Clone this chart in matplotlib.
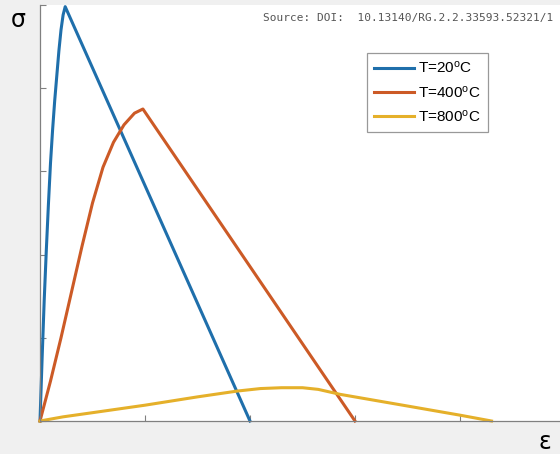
import matplotlib
matplotlib.use("Agg")
import matplotlib.pyplot as plt

plt.rcParams["font.family"] = ["Liberation Sans", "DejaVu Sans"]
plt.rcParams["mathtext.fontset"] = "custom"
plt.rcParams["mathtext.rm"] = "Liberation Sans"
plt.rcParams["mathtext.it"] = "Liberation Sans"

# Stress-strain curves (arbitrary units) at three temperatures
strain_20 = [0, 0.02, 0.04, 0.06, 0.08, 0.10, 0.12, 0.14, 0.16, 0.18, 0.20, 0.22, 0.24, 2.0]
stress_20 = [0, 0.75, 1.45, 2.05, 2.6, 3.1, 3.5, 3.85, 4.15, 4.45, 4.7, 4.88, 4.98, 0]

strain_400 = [0, 0.1, 0.2, 0.3, 0.4, 0.5, 0.6, 0.7, 0.8, 0.9, 0.98, 3.0]
stress_400 = [0, 0.48, 1.0, 1.55, 2.1, 2.62, 3.05, 3.35, 3.56, 3.7, 3.75, 0]

strain_800 = [0, 0.22, 0.5, 1.0, 1.5, 1.88, 2.1, 2.3, 2.5, 2.65, 2.86, 3.5, 4.0, 4.3]
stress_800 = [0, 0.05, 0.10, 0.19, 0.29, 0.36, 0.39, 0.40, 0.40, 0.38, 0.32, 0.18, 0.07, 0]

labels = ["T=20$^{o}$C", "T=400$^{o}$C", "T=800$^{o}$C"]
colors = ["#1f6fab", "#cc5a26", "#e5b02a"]

x_ticks = [0, 1, 2, 3, 4, 5]
y_ticks = [0, 1, 2, 3, 4, 5]

W, H = 560, 454
fig = plt.figure(figsize=(W / 100, H / 100), dpi=100)
fig.patch.set_facecolor("#f0f0f0")
ax = fig.add_axes([40 / W, 33 / H, 525 / W, 416 / H])
ax.set_facecolor("white")

for xs, ys, lab, c in zip([strain_20, strain_400, strain_800],
                          [stress_20, stress_400, stress_800],
                          labels, colors):
    ax.plot(xs, ys, color=c, lw=2.2, label=lab, clip_on=False,
            solid_joinstyle="round")

ax.set_xlim(0, 5)
ax.set_ylim(0, 5)
ax.set_xticks(x_ticks)
ax.set_yticks(y_ticks)
ax.set_xticklabels([])
ax.set_yticklabels([])
ax.tick_params(direction="in", length=4, width=0.8, color="#808080")
for side in ["top", "right"]:
    ax.spines[side].set_visible(False)
for side in ["left", "bottom"]:
    ax.spines[side].set_color("#808080")
    ax.spines[side].set_linewidth(0.9)

leg = ax.legend(loc="upper left", bbox_to_anchor=((367 - 40) / 525, (421 - 53) / 416),
                fontsize=11, frameon=True, fancybox=False, handlelength=2.6,
                handletextpad=0.3, borderpad=0.45, labelspacing=0.55,
                borderaxespad=0)
leg.get_frame().set_edgecolor("#808080")
leg.get_frame().set_linewidth(0.9)

fig.text(18 / W, 1 - 20 / H, "σ", fontsize=17, ha="center", va="center",
         family=["DejaVu Sans"])
fig.text(545 / W, 1 - 442 / H, "ε", fontsize=17, ha="center", va="center",
         family=["DejaVu Sans"])
fig.text(553 / W, 1 - 18 / H, "Source: DOI:  10.13140/RG.2.2.33593.52321/1",
         fontsize=8.0, ha="right", va="center", color="#555555",
         family=["DejaVu Sans Mono"])

fig.savefig("out.png", dpi=100, facecolor=fig.get_facecolor())
